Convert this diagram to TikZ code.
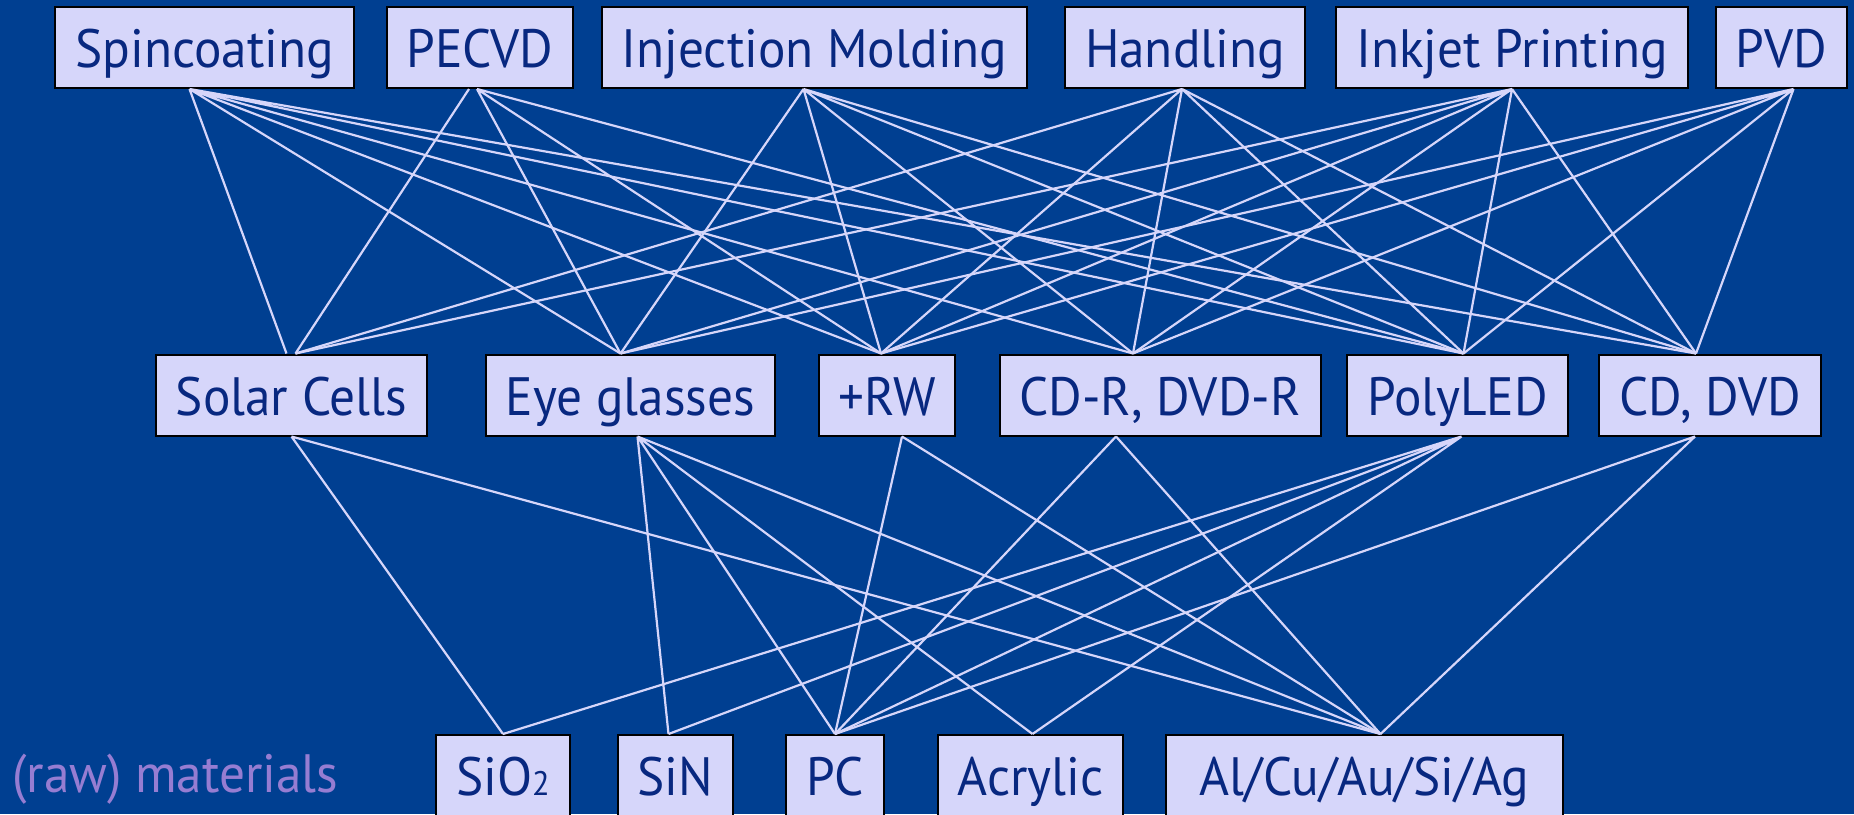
\documentclass[tikz,border=0pt]{standalone}
\usepackage{fontspec}
\setmainfont{PT Sans}[FakeStretch=0.95]
\usetikzlibrary{positioning}
\definecolor{slide}{RGB}{0,63,145}
\definecolor{boxfill}{RGB}{214,214,250}
\definecolor{boxtext}{RGB}{8,40,128}
\definecolor{rawtext}{RGB}{150,125,210}
\newcommand{\lowtwo}{{\fontsize{34}{36}\selectfont 2}}

\begin{document}
\begin{tikzpicture}[
  x=1pt,y=-1pt,
  every node/.style={font=\fontsize{54}{60}\selectfont},
  item/.style={draw=black,line width=2pt,fill=boxfill,text=boxtext,minimum height=81pt,inner xsep=20pt,text height=40pt,text depth=0pt},
  link/.style={draw=boxfill,line width=2.2pt}
]
\fill[slide] (0,0) rectangle (1854,814);
\useasboundingbox (0,0) rectangle (1854,814);
% processes
\node[item] (spin) at (204.5,47.5) {Spincoating};
\node[item] (pecvd) at (480,47.5) {PECVD};
\node[item] (inj) at (814.5,47.5) {Injection Molding};
\node[item] (hand) at (1185,47.5) {Handling};
\node[item] (ink) at (1512,47.5) {Inkjet Printing};
\node[item] (pvd) at (1781.5,47.5) {PVD};
% products
\node[item] (solar) at (291.5,395) {Solar Cells};
\node[item] (eye) at (630.5,395) {Eye glasses};
\node[item] (rw) at (887,395) {+RW};
\node[item] (cdr) at (1160,395) {CD-R, DVD-R};
\node[item] (poly) at (1457.5,395) {PolyLED};
\node[item] (cdd) at (1710,395) {CD, DVD};
% materials
\node[item] (sio) at (503,775.5) {SiO\lowtwo};
\node[item] (sin) at (675.5,775.5) {SiN};
\node[item] (pc) at (835,775.5) {PC};
\node[item] (acr) at (1030.5,775.5) {Acrylic};
\node[item,minimum width=397pt] (metal) at (1364.5,775.5) {Al/Cu/Au/Si/Ag};
\node[text=rawtext,inner sep=0pt,anchor=base west] (raw) at (12,792) {(raw) materials};

% process -> product
\draw[link] ([xshift=-15pt]spin.south) -- ([xshift=-5pt]solar.north)
  ([xshift=-15pt]spin.south) -- ([xshift=-10pt]eye.north)
  ([xshift=-15pt]spin.south) -- ([xshift=-6pt]rw.north)
  ([xshift=-15pt]spin.south) -- ([xshift=-27pt]cdr.north)
  ([xshift=-15pt]spin.south) -- ([xshift=6pt]poly.north)
  ([xshift=-15pt]spin.south) -- ([xshift=-14pt]cdd.north);
\draw[link] ([xshift=-11pt]pecvd.south) -- ([xshift=4pt]solar.north)
  ([xshift=-3pt]pecvd.south) -- ([xshift=-10pt]eye.north)
  ([xshift=-3pt]pecvd.south) -- ([xshift=-6pt]rw.north)
  ([xshift=-3pt]pecvd.south) -- ([xshift=6pt]poly.north);
\draw[link] ([xshift=-11pt]inj.south) -- ([xshift=-10pt]eye.north)
  ([xshift=-11pt]inj.south) -- ([xshift=-6pt]rw.north)
  ([xshift=-11pt]inj.south) -- ([xshift=-27pt]cdr.north)
  ([xshift=-11pt]inj.south) -- ([xshift=6pt]poly.north)
  ([xshift=-11pt]inj.south) -- ([xshift=-14pt]cdd.north);
\draw[link] ([xshift=-3pt]hand.south) -- ([xshift=4pt]solar.north)
  ([xshift=-3pt]hand.south) -- ([xshift=-6pt]rw.north)
  ([xshift=-3pt]hand.south) -- ([xshift=-27pt]cdr.north)
  ([xshift=-3pt]hand.south) -- ([xshift=6pt]poly.north)
  ([xshift=-3pt]hand.south) -- ([xshift=-14pt]cdd.north);
\draw[link] (ink.south) -- ([xshift=4pt]solar.north)
  (ink.south) -- ([xshift=-10pt]eye.north)
  (ink.south) -- ([xshift=-6pt]rw.north)
  (ink.south) -- ([xshift=-27pt]cdr.north)
  (ink.south) -- ([xshift=6pt]poly.north)
  (ink.south) -- ([xshift=-14pt]cdd.north);
\draw[link] ([xshift=12pt]pvd.south) -- ([xshift=-10pt]eye.north)
  ([xshift=12pt]pvd.south) -- ([xshift=-6pt]rw.north)
  ([xshift=12pt]pvd.south) -- ([xshift=-27pt]cdr.north)
  ([xshift=12pt]pvd.south) -- ([xshift=6pt]poly.north)
  ([xshift=12pt]pvd.south) -- ([xshift=-14pt]cdd.north);

% product -> material
\draw[link] (solar.south) -- (sio.north)
  (solar.south) -- ([xshift=16pt]metal.north);
\draw[link] ([xshift=7pt]eye.south) -- ([xshift=-7pt]sin.north)
  ([xshift=7pt]eye.south) -- (pc.north)
  ([xshift=7pt]eye.south) -- ([xshift=2pt]acr.north)
  ([xshift=7pt]eye.south) -- ([xshift=16pt]metal.north);
\draw[link] ([xshift=15pt]rw.south) -- (pc.north)
  ([xshift=15pt]rw.south) -- ([xshift=16pt]metal.north);
\draw[link] ([xshift=-44pt]cdr.south) -- (pc.north)
  ([xshift=-44pt]cdr.south) -- ([xshift=16pt]metal.north);
\draw[link] ([xshift=4pt]poly.south) -- (sio.north)
  ([xshift=4pt]poly.south) -- ([xshift=-7pt]sin.north)
  ([xshift=4pt]poly.south) -- (pc.north)
  ([xshift=4pt]poly.south) -- ([xshift=2pt]acr.north);
\draw[link] ([xshift=-15pt]cdd.south) -- (pc.north)
  ([xshift=-15pt]cdd.south) -- ([xshift=16pt]metal.north);
\end{tikzpicture}
\end{document}
